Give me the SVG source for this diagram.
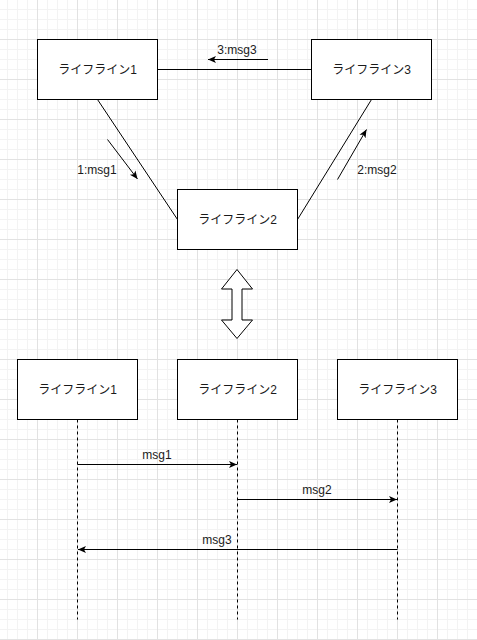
<svg xmlns="http://www.w3.org/2000/svg" width="477" height="640" viewBox="0 0 477 640">
  <defs>
    <pattern id="grid" patternUnits="userSpaceOnUse" x="37" y="39" width="40" height="40">
      <path d="M10.5 0V40M20.5 0V40M30.5 0V40M0 10.5H40M0 20.5H40M0 30.5H40" stroke="#f3f3f3" stroke-width="1" fill="none"/>
      <path d="M0.5 0V40M0 0.5H40" stroke="#e2e2e2" stroke-width="1" fill="none"/>
    </pattern>
    <marker id="arr" markerUnits="userSpaceOnUse" markerWidth="10" markerHeight="10" viewBox="0 0 10 10" refX="8" refY="4" orient="auto">
      <path d="M0 0.5L8 4L0 7.5L2 4Z" fill="#000"/>
    </marker>
  </defs>
  <style>
    .box { fill: #fff; stroke: #000; stroke-width: 1; }
    .lbl { font-family: "Liberation Sans", "Noto Sans CJK JP", sans-serif; font-size: 12px; fill: #1a1a1a; text-anchor: middle; }
    .ln { stroke: #000; stroke-width: 1; fill: none; }
    .arrow { stroke: #000; stroke-width: 1; fill: none; marker-end: url(#arr); }
    .life { stroke: #000; stroke-width: 1; stroke-dasharray: 3 3; fill: none; }
  </style>
  <rect width="477" height="640" fill="#fff"/>
  <rect width="477" height="640" fill="url(#grid)"/>

  <g id="connectors">
    <path class="ln" d="M157.5 69.5H311.5"/>
    <path class="ln" d="M97.5 99.5L177.5 219.5"/>
    <path class="ln" d="M371.5 99.5L297.5 219.5"/>
    <path class="arrow" d="M268 59.5H208"/>
    <path class="arrow" d="M107.5 139.5L137.5 179"/>
    <path class="arrow" d="M337.5 179.5L366.5 129.5"/>
    <path class="life" d="M77.5 419.5V619.5"/>
    <path class="life" d="M237.5 419.5V619.5"/>
    <path class="life" d="M397.5 419.5V619.5"/>
    <path class="arrow" d="M77.5 464.5H237"/>
    <path class="arrow" d="M237.5 499.5H397"/>
    <path class="arrow" d="M397.5 549.5H78"/>
    <text class="lbl" x="237" y="54">3:msg3</text>
    <text class="lbl" x="97" y="174">1:msg1</text>
    <text class="lbl" x="377" y="174">2:msg2</text>
    <text class="lbl" x="157" y="459">msg1</text>
    <text class="lbl" x="317" y="494">msg2</text>
    <text class="lbl" x="217" y="544">msg3</text>
  </g>

  <g id="comm-lifeline1">
    <rect class="box" x="37.5" y="39.5" width="120" height="60"/>
    <text class="lbl" x="97.5" y="73.5">ライフライン1</text>
  </g>
  <g id="comm-lifeline3">
    <rect class="box" x="311.5" y="39.5" width="120" height="60"/>
    <text class="lbl" x="371.5" y="73.5">ライフライン3</text>
  </g>
  <g id="comm-lifeline2">
    <rect class="box" x="177.5" y="189.5" width="120" height="60"/>
    <text class="lbl" x="237.5" y="223.5">ライフライン2</text>
  </g>

  <g id="double-arrow">
    <polygon points="237,269.5 252.5,289 242,289 242,320 252.5,320 237,338.5 221.5,320 232,320 232,289 221.5,289" fill="#fff" stroke="#000" stroke-width="1"/>
  </g>

  <g id="seq-lifeline1">
    <rect class="box" x="17.5" y="359.5" width="120" height="60"/>
    <text class="lbl" x="77.5" y="393.5">ライフライン1</text>
  </g>
  <g id="seq-lifeline2">
    <rect class="box" x="177.5" y="359.5" width="120" height="60"/>
    <text class="lbl" x="237.5" y="393.5">ライフライン2</text>
  </g>
  <g id="seq-lifeline3">
    <rect class="box" x="337.5" y="359.5" width="120" height="60"/>
    <text class="lbl" x="397.5" y="393.5">ライフライン3</text>
  </g>
</svg>
